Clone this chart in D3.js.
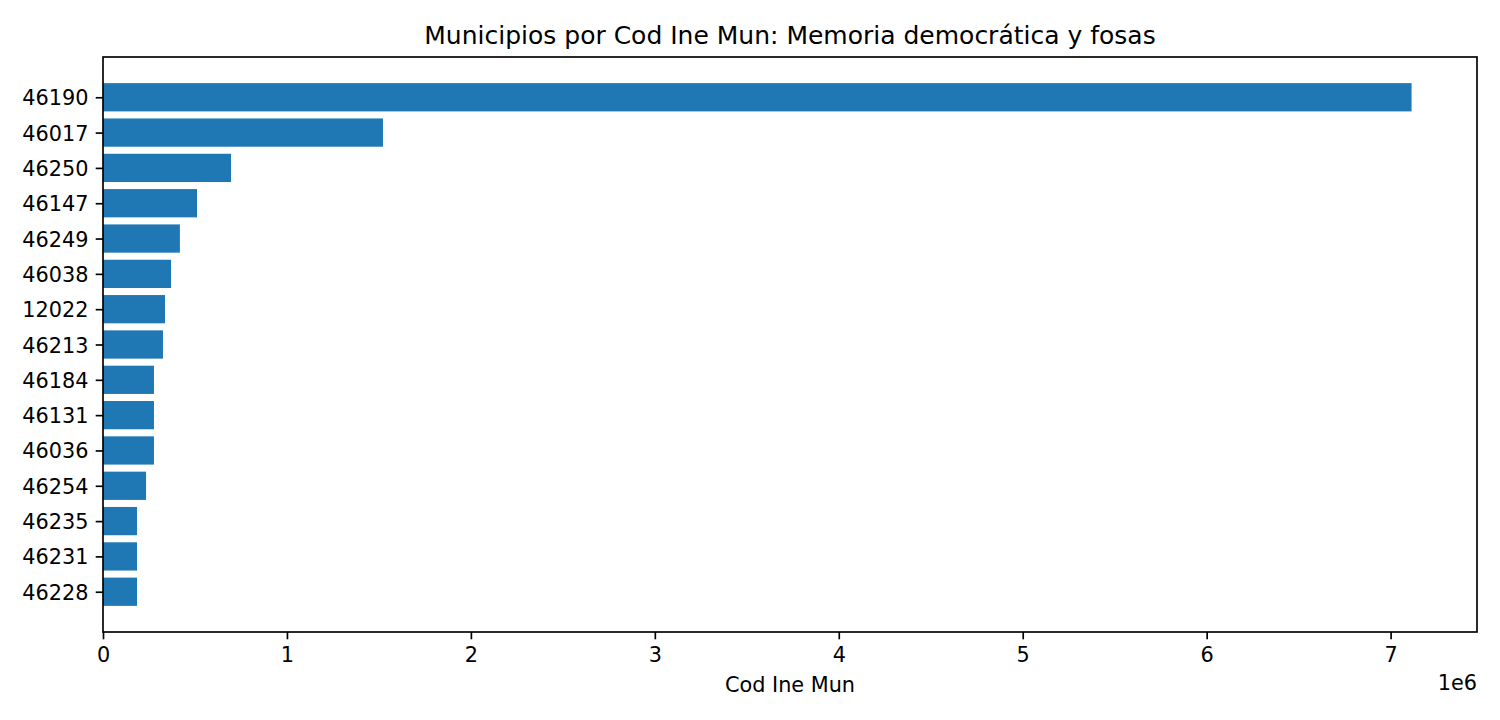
<!DOCTYPE html>
<html><head><meta charset="utf-8">
<script src="https://cdn.jsdelivr.net/npm/d3@7"></script>
<style>body{margin:0;background:#fff}svg{display:block}text{font-family:"DejaVu Sans",sans-serif;fill:#000}</style>
</head><body>
<script>
const categories = ["46190","46017","46250","46147","46249","46038","12022","46213","46184","46131","46036","46254","46235","46231","46228"];
const values = [7114000,1522000,696000,511000,418000,370000,337000,326000,277000,277000,277000,234000,185000,185000,185000];
const xTicks = [0,1e6,2e6,3e6,4e6,5e6,6e6,7e6];
const xTickLabels = ["0","1","2","3","4","5","6","7"];
const title = "Municipios por Cod Ine Mun: Memoria democrática y fosas";
const xLabel = "Cod Ine Mun";
const offsetText = "1e6";

const W=1500,H=720;
const L=103,R=1477,T=57,B=632;
const svg=d3.select("body").append("svg").attr("width",W).attr("height",H);
const maxV=d3.max(values);
const x=d3.scaleLinear().domain([0,maxV*1.05]).range([L,R]);
const n=categories.length;
const span=(n-1)+0.8;
const y=d3.scaleLinear().domain([-0.4-span*0.05,(n-1)+0.4+span*0.05]).range([T,B]);
const bh=y(0.4)-y(-0.4);

svg.append("g").selectAll("rect").data(values).join("rect")
 .attr("x",x(0)).attr("y",(d,i)=>y(i)-bh/2)
 .attr("width",d=>x(d)-x(0)).attr("height",bh).attr("fill","#1f77b4");

const tickLen=7.3, pad=7.3, lw=1.67, fs=20.8;
const xa=d3.axisBottom(x).tickValues(xTicks).tickFormat((d,i)=>xTickLabels[i]).tickSize(tickLen).tickPadding(pad);
const gx=svg.append("g").attr("transform",`translate(0,${B})`).call(xa);
gx.select(".domain").remove();
gx.selectAll("line").attr("stroke","#000").attr("stroke-width",lw);
gx.selectAll("text").attr("font-size",fs).attr("fill","#000").attr("dy","0.73em");

const ya=d3.axisLeft(y).tickValues(d3.range(n)).tickFormat(i=>categories[i]).tickSize(tickLen).tickPadding(pad);
const gy=svg.append("g").attr("transform",`translate(${L},0)`).call(ya);
gy.select(".domain").remove();
gy.selectAll("line").attr("stroke","#000").attr("stroke-width",lw);
gy.selectAll("text").attr("font-size",fs).attr("fill","#000").attr("dy","0.36em");

svg.append("rect").attr("x",L).attr("y",T).attr("width",R-L).attr("height",B-T)
 .attr("fill","none").attr("stroke","#000").attr("stroke-width",lw);

svg.append("text").attr("x",(L+R)/2).attr("y",44).attr("text-anchor","middle").attr("font-size",25).text(title);
svg.append("text").attr("x",(L+R)/2).attr("y",692).attr("text-anchor","middle").attr("font-size",fs).text(xLabel);
svg.append("text").attr("x",R).attr("y",690).attr("text-anchor","end").attr("font-size",fs).text(offsetText);
</script>
</body></html>
